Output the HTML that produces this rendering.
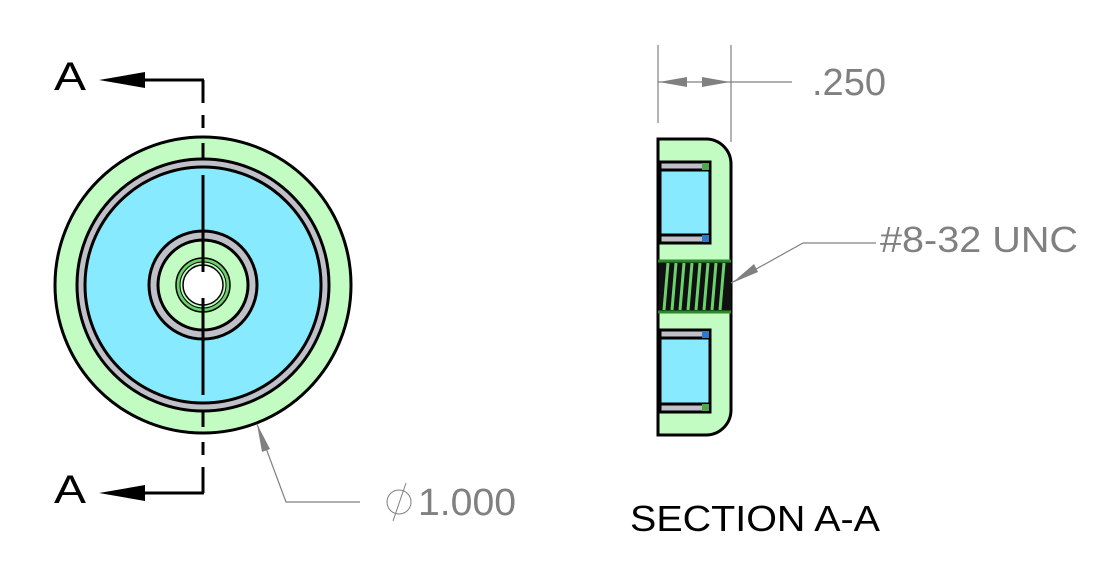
<!DOCTYPE html>
<html><head><style>body{margin:0;background:#fff}</style></head><body>
<svg width="1107" height="572" xmlns="http://www.w3.org/2000/svg" font-family="Liberation Sans, Arial, sans-serif">
<rect width="1107" height="572" fill="#fff"/>
<circle cx="203" cy="285" r="148" fill="#c2fcc2" stroke="#000" stroke-width="3"/>
<circle cx="203" cy="285" r="126" fill="#c0c0c8" stroke="#000" stroke-width="3"/>
<circle cx="203" cy="285" r="118" fill="#88eaff" stroke="#000" stroke-width="3"/>
<circle cx="203" cy="285" r="54" fill="#c0c0c8" stroke="#000" stroke-width="3"/>
<circle cx="203" cy="285" r="45" fill="#c2fcc2" stroke="#000" stroke-width="3"/>
<circle cx="203" cy="285" r="27" fill="#6ad26a" stroke="#000" stroke-width="1.5"/>
<circle cx="203" cy="285" r="23" fill="#c2fcc2" stroke="#000" stroke-width="1"/>
<circle cx="203" cy="285" r="20" fill="#fff" stroke="#000" stroke-width="1.5"/>
<g stroke="#000" stroke-width="3">
<line x1="203" y1="80" x2="203" y2="103"/><line x1="203" y1="115" x2="203" y2="128"/>
<line x1="203" y1="143" x2="203" y2="160"/><line x1="203" y1="175" x2="203" y2="272"/>
<line x1="203" y1="298" x2="203" y2="395"/><line x1="203" y1="410" x2="203" y2="427"/>
<line x1="203" y1="442" x2="203" y2="455"/><line x1="203" y1="467" x2="203" y2="493"/>
<line x1="140" y1="80" x2="204" y2="80"/><line x1="140" y1="493" x2="204" y2="493"/>
</g>
<polygon points="99,80 145,72 145,88" fill="#000"/>
<polygon points="99,493 145,485 145,501" fill="#000"/>
<text x="54" y="90" font-size="40" textLength="32" lengthAdjust="spacingAndGlyphs">A</text>
<text x="54" y="503" font-size="40" textLength="32" lengthAdjust="spacingAndGlyphs">A</text>
<g stroke="#808080" stroke-width="1.2" fill="none"><polyline points="257,424 286,502 360,502"/></g>
<polygon points="257,424 262,452 270,449" fill="#808080"/>
<circle cx="399" cy="502" r="12" fill="none" stroke="#808080" stroke-width="1"/>
<line x1="393" y1="521" x2="406" y2="483" stroke="#808080" stroke-width="1"/>
<text x="418" y="515" font-size="38" fill="#808080" textLength="98" lengthAdjust="spacingAndGlyphs">1.000</text>
<path d="M658,139 H706 A25,25 0 0 1 731,164 V410 A25,25 0 0 1 706,435 H658 Z" fill="#c2fcc2" stroke="#000" stroke-width="3"/>
<g stroke="#000" stroke-width="3">
<rect x="660" y="162" width="50" height="81" fill="#88eaff"/>
<rect x="660" y="162" width="50" height="8" fill="#c0c0c8"/>
<rect x="660" y="235" width="50" height="8" fill="#c0c0c8"/>
<rect x="660" y="330" width="50" height="82" fill="#88eaff"/>
<rect x="660" y="330" width="50" height="8" fill="#c0c0c8"/>
<rect x="660" y="404" width="50" height="8" fill="#c0c0c8"/>
</g>
<rect x="702" y="235" width="7" height="7" fill="#2a7ad0"/>
<rect x="702" y="331" width="7" height="7" fill="#2a7ad0"/>
<rect x="702" y="163" width="7" height="7" fill="#4caa4c"/>
<rect x="702" y="404" width="7" height="7" fill="#4caa4c"/>
<rect x="659" y="260" width="72" height="53" fill="#111"/>
<g stroke="#6ad26a" stroke-width="3">
<line x1="664" y1="310" x2="668" y2="263"/><line x1="672" y1="310" x2="676" y2="263"/>
<line x1="680" y1="310" x2="684" y2="263"/><line x1="688" y1="310" x2="692" y2="263"/>
<line x1="696" y1="310" x2="700" y2="263"/><line x1="704" y1="310" x2="708" y2="263"/>
<line x1="712" y1="310" x2="716" y2="263"/><line x1="720" y1="310" x2="724" y2="263"/>
</g>
<line x1="658" y1="261" x2="731" y2="261" stroke="#2a8a2a" stroke-width="3"/>
<line x1="658" y1="312" x2="731" y2="312" stroke="#2a8a2a" stroke-width="3"/>
<g stroke="#808080" stroke-width="1.2">
<line x1="658" y1="45" x2="658" y2="123"/><line x1="731" y1="45" x2="731" y2="142"/>
<line x1="658" y1="82" x2="792" y2="82"/>
</g>
<polygon points="659,82 687,77 687,87" fill="#808080"/>
<polygon points="730,82 702,77 702,87" fill="#808080"/>
<text x="812" y="95" font-size="38" fill="#808080" textLength="74" lengthAdjust="spacingAndGlyphs">.250</text>
<polyline points="731,283 803,243 876,243" fill="none" stroke="#808080" stroke-width="1.2"/>
<polygon points="732,283 754,264 758,272" fill="#808080"/>
<text x="880" y="252" font-size="36" fill="#808080" textLength="198" lengthAdjust="spacingAndGlyphs">#8-32 UNC</text>
<text x="630" y="531" font-size="36" fill="#000" textLength="250" lengthAdjust="spacingAndGlyphs">SECTION A-A</text>
</svg>
</body></html>
